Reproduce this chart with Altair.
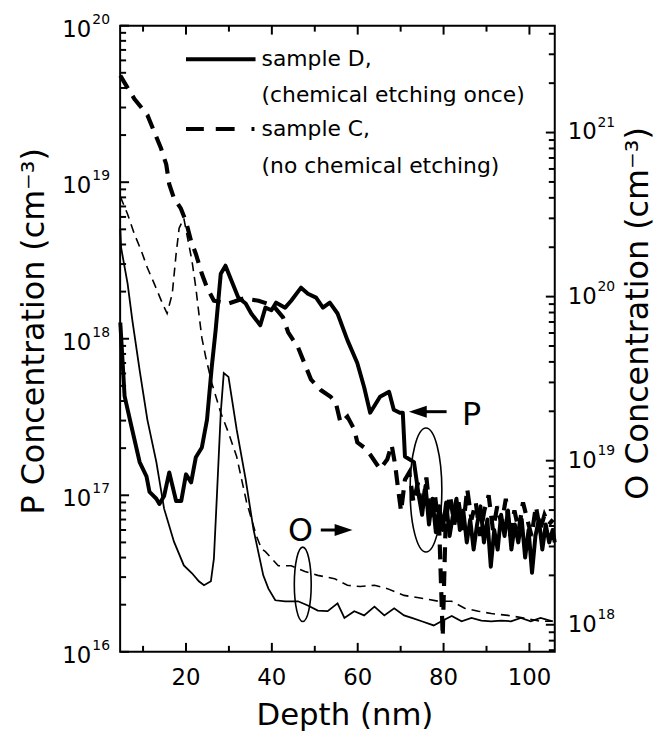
import altair as alt
import pandas as pd

FONT = "DejaVu Sans"
W, H = 438, 631
X0, X1 = 4.66, 105.9
P0, P1 = 16.0, 20.0          # log10 limits of the left (P) axis
O0, O1 = 17.835, 21.6515     # log10 limits of the right (O) axis

# ---------------- data ----------------
# P concentration, sample D (thick solid)
pD_depth = [4.7, 5.7, 7.3, 9.2, 10.8, 11.5, 13.1, 13.8, 14.9, 16.1, 17.7, 18.9, 20.0, 21.2, 22.3,
            23.7, 24.9, 26.0, 26.9, 28.1, 29.2, 30.6, 32.2, 33.9, 35.2, 37.3, 38.5, 39.9, 41.0,
            43.1, 44.5, 46.8, 48.4, 50.3, 51.9, 53.5, 55.3, 57.6, 59.9, 61.5, 62.9, 65.2, 67.3,
            68.4, 69.8, 70.5, 71.0, 73.1, 74.2, 75.0, 75.8, 76.6, 77.4, 78.2, 79.0, 79.8, 80.6,
            81.4, 82.2, 83.0, 83.8, 84.6, 85.4, 86.2, 87.0, 87.8, 88.6, 89.4, 90.2, 91.0, 91.8,
            92.6, 93.4, 94.2, 95.0, 95.8, 96.6, 97.4, 98.2, 99.0, 99.8, 100.6, 101.4, 102.2,
            103.0, 103.8, 104.6, 105.4, 105.9]
pD_conc = [1.27e18, 4.3e17, 2.75e17, 1.63e17, 1.32e17, 1.05e17, 9.5e16, 8.8e16, 9.9e16, 1.4e17,
           9.2e16, 9.2e16, 1.36e17, 1.21e17, 1.75e17, 2.02e17, 3.04e17, 6.6e17, 1.13e18, 2.6e18,
           2.93e18, 2.35e18, 1.83e18, 1.68e18, 1.45e18, 1.22e18, 1.58e18, 1.52e18, 1.7e18,
           1.58e18, 1.75e18, 2.12e18, 1.94e18, 1.83e18, 1.58e18, 1.7e18, 1.45e18, 9.8e17,
           7.0e17, 4.9e17, 3.37e17, 4.26e17, 4.58e17, 3.52e17, 3.37e17, 3.37e17, 1.77e17,
           1.63e17, 1.0e17, 7.5e16, 1.15e17, 6.5e16, 9.5e16, 5.8e16, 8.5e16, 6.0e16, 9.0e16,
           5.5e16, 7.5e16, 9.5e16, 6.0e16, 8.0e16, 5.0e16, 7.0e16, 4.5e16, 6.5e16, 8.5e16,
           5.0e16, 7.0e16, 3.5e16, 6.0e16, 4.5e16, 7.5e16, 5.5e16, 8.0e16, 4.5e16, 6.5e16,
           5.0e16, 7.0e16, 4.0e16, 6.0e16, 3.2e16, 5.5e16, 7.0e16, 4.5e16, 6.5e16, 5.0e16,
           6.0e16, 5.0e16]

# P concentration, sample C (thick dashed)
pC_depth = [4.7, 6.3, 8.0, 11.0, 12.6, 14.2, 15.4, 16.1, 17.2, 18.8, 20.0, 21.2, 22.3, 23.7,
            24.9, 26.5, 29.9, 33.4, 36.9, 40.3, 42.6, 43.8, 46.1, 47.3, 49.1, 51.4, 53.7, 54.9,
            56.0, 57.6, 59.2, 59.9, 61.5, 62.9, 65.2, 66.9, 67.9, 68.7, 69.4, 70.1, 71.0, 72.0,
            73.0, 74.0, 75.0, 76.0, 77.0, 78.0, 79.0, 79.8, 80.5, 81.5, 82.5, 83.5, 84.5, 85.5,
            86.5, 87.5, 88.5, 89.5, 90.5, 91.5, 92.5, 93.5, 94.5, 95.5, 96.5, 97.5, 98.5, 99.5,
            100.5, 101.5, 102.5, 103.5, 104.5, 105.5]
pC_conc = [4.8e19, 4.05e19, 3.4e19, 2.69e19, 2.1e19, 1.64e19, 1.3e19, 9.7e18, 7.9e18, 6.8e18,
           5.6e18, 4.2e18, 3.48e18, 2.6e18, 2.12e18, 1.75e18, 1.68e18, 1.81e18, 1.75e18,
           1.63e18, 1.37e18, 1.1e18, 8.8e17, 7.3e17, 5.5e17, 4.7e17, 4.26e17, 3.9e17, 2.91e17,
           3.18e17, 2.63e17, 2.18e17, 2.02e17, 1.82e17, 1.47e17, 1.7e17, 2.1e17, 1.58e17,
           1.1e17, 7.9e16, 1.26e17, 1.4e17, 9.0e16, 1.2e17, 8.0e16, 1.3e17, 7.0e16, 1.0e17,
           6.0e16, 1.25e16, 7.0e16, 1.0e17, 6.5e16, 9.0e16, 6.0e16, 1.1e17, 7.0e16, 9.0e16,
           5.5e16, 8.0e16, 1.0e17, 6.0e16, 8.5e16, 6.5e16, 9.5e16, 5.5e16, 8.0e16, 6.0e16,
           9.0e16, 7.0e16, 5.5e16, 8.5e16, 6.0e16, 7.5e16, 6.5e16, 7.0e16]

# O concentration, sample D (thin solid)
oD_depth = [4.7, 4.9, 6.4, 7.5, 9.2, 11.0, 13.1, 14.9, 17.2, 19.5, 21.4, 23.0, 24.2, 25.8,
            26.5, 27.2, 28.1, 28.8, 29.9, 31.8, 33.9, 35.7, 38.0, 39.2, 40.8, 43.1, 46.1, 48.4,
            50.7, 53.0, 55.3, 56.9, 59.2, 61.5, 63.9, 66.2, 68.5, 70.8, 72.6, 74.9, 77.7, 79.5,
            81.9, 84.2, 86.5, 88.8, 91.1, 93.4, 95.7, 98.0, 100.3, 102.6, 105.4]
oD_conc = [2.58e20, 1.98e20, 1.2e20, 7.2e19, 3.57e19, 1.78e19, 9.8e18, 5.1e18, 3.21e18, 2.3e18,
           2.06e18, 1.84e18, 1.74e18, 1.84e18, 2.53e18, 6.1e18, 1.96e19, 3.42e19, 3.24e19,
           1.55e19, 7.7e18, 3.84e18, 2.0e18, 1.66e18, 1.41e18, 1.39e18, 1.39e18, 1.31e18,
           1.22e18, 1.21e18, 1.35e18, 1.1e18, 1.21e18, 1.14e18, 1.29e18, 1.14e18, 1.26e18,
           1.14e18, 1.1e18, 1.05e18, 9.9e17, 1.05e18, 1.13e18, 1.05e18, 1.1e18, 1.06e18,
           1.05e18, 1.06e18, 1.05e18, 1.1e18, 1.05e18, 1.1e18, 1.05e18]

# O concentration, sample C (thin dashed)
oC_depth = [4.7, 6.4, 8.0, 9.6, 11.0, 12.6, 14.5, 15.6, 16.8, 17.7, 18.4, 19.5, 20.2, 21.4,
            22.3, 23.0, 23.7, 24.6, 26.0, 28.1, 29.9, 31.8, 34.1, 36.4, 37.6, 38.5, 41.5, 44.5,
            47.7, 50.7, 54.6, 57.6, 60.6, 63.9, 66.9, 70.8, 74.9, 78.9, 81.9, 84.9, 88.1, 91.1,
            95.0, 98.7, 102.6, 105.4]
oC_conc = [4.08e20, 3.18e20, 2.4e20, 1.9e20, 1.5e20, 1.2e20, 9.1e19, 7.9e19, 1.04e20, 1.82e20,
           2.61e20, 3.0e20, 2.4e20, 1.65e20, 1.13e20, 7.9e19, 5.6e19, 4.28e19, 2.98e19,
           1.96e19, 1.48e19, 1.06e19, 5.6e18, 3.48e18, 2.9e18, 2.79e18, 2.29e18, 2.29e18,
           2.11e18, 2.0e18, 1.91e18, 1.74e18, 1.71e18, 1.74e18, 1.66e18, 1.51e18, 1.45e18,
           1.39e18, 1.39e18, 1.26e18, 1.21e18, 1.17e18, 1.14e18, 1.1e18, 1.05e18, 1.05e18]

# ticks / labels
x_major = [20, 40, 60, 80, 100]
x_minor = [10, 30, 50, 70, 90]
x_labels = ["20", "40", "60", "80", "100"]
p_major = [1e16, 1e17, 1e18, 1e19, 1e20]
p_exp = ["16", "17", "18", "19", "20"]
p_minor = [k * 10.0 ** n for n in range(16, 20) for k in range(2, 10)]
o_major = [1e18, 1e19, 1e20, 1e21]
o_exp = ["18", "19", "20", "21"]
o_minor = [7e17, 8e17, 9e17] + [k * 10.0 ** n for n in (18, 19, 20) for k in range(2, 10)] + [2e21, 3e21, 4e21]

legend_labels = ["sample D,", "(chemical etching once)", "sample C,", "(no chemical etching)"]
legend_P = [6.1e19, 3.6e19, 2.19e19, 1.26e19]

# ---------------- scales ----------------
xs = alt.Scale(domain=[X0, X1], nice=False, zero=False)
ps = alt.Scale(type="log", domain=[10 ** P0, 10 ** P1], nice=False)
X = alt.X("depth:Q", scale=xs, axis=None)
YP = alt.Y("P:Q", scale=ps, axis=None)
# right-hand (O) axis: log range [O0, O1] laid over the same plot height
O_TO_P = f"pow(10, {P0} + (log(datum.O)/LN10 - {O0}) * {(P1 - P0) / (O1 - O0)})"
YO = alt.Y("OP:Q", scale=ps, axis=None)

px_per_nm = W / (X1 - X0)
px_per_dec = H / (P1 - P0)
MAJ, MIN = 9.0, 6.0


def ytick(vals, field, length, right=False):
    n = len(vals)
    dx = length / px_per_nm
    d = pd.DataFrame({"depth": [X1 - dx if right else X0] * n,
                      "d2": [X1 if right else X0 + dx] * n,
                      field: list(vals)})
    ch = alt.Chart(d)
    if field == "O":
        ch = ch.transform_calculate(OP=O_TO_P)
    return ch.mark_rule(color="black", strokeWidth=2).encode(
        x=X, x2="d2:Q", y=(YO if field == "O" else YP))


def xtick(vals, length, top=False):
    n = len(vals)
    dy = length / px_per_dec
    d = pd.DataFrame({"depth": list(vals),
                      "P": [10 ** P1 if top else 10 ** P0] * n,
                      "P2": [10 ** (P1 - dy) if top else 10 ** (P0 + dy)] * n})
    return alt.Chart(d).mark_rule(color="black", strokeWidth=2).encode(x=X, y=YP, y2="P2:Q")


# ---------------- curves ----------------
lineD = alt.Chart(pd.DataFrame({"depth": pD_depth, "P": pD_conc})).mark_line(
    color="black", strokeWidth=4, strokeJoin="round").encode(x=X, y=YP)
lineC = alt.Chart(pd.DataFrame({"depth": pC_depth, "P": pC_conc})).mark_line(
    color="black", strokeWidth=4.2, strokeDash=[15, 9]).encode(x=X, y=YP)
lineOD = alt.Chart(pd.DataFrame({"depth": oD_depth, "O": oD_conc})).transform_calculate(
    OP=O_TO_P).mark_line(color="black", strokeWidth=1.8).encode(x=X, y=YO)
lineOC = alt.Chart(pd.DataFrame({"depth": oC_depth, "O": oC_conc})).transform_calculate(
    OP=O_TO_P).mark_line(color="black", strokeWidth=1.6, strokeDash=[9, 6]).encode(x=X, y=YO)

# ---------------- tick labels ----------------
pmaj = alt.Chart(pd.DataFrame({"P": p_major, "e": p_exp}))
p_lab10 = pmaj.mark_text(align="right", baseline="middle", dy=4, fontSize=23, font=FONT,
                         color="black").encode(x=alt.value(-29), y=YP, text=alt.value("10"))
p_labexp = pmaj.mark_text(align="left", baseline="middle", dy=-6, fontSize=14, font=FONT,
                          color="black").encode(x=alt.value(-28), y=YP, text="e:N")
omaj = alt.Chart(pd.DataFrame({"O": o_major, "e": o_exp})).transform_calculate(OP=O_TO_P)
o_lab10 = omaj.mark_text(align="left", baseline="middle", dy=0, fontSize=23, font=FONT,
                         color="black").encode(x=alt.value(451), y=YO, text=alt.value("10"))
o_labexp = omaj.mark_text(align="left", baseline="middle", dy=-10, fontSize=14, font=FONT,
                          color="black").encode(x=alt.value(481), y=YO, text="e:N")
x_lab = alt.Chart(pd.DataFrame({"depth": x_major, "lab": x_labels})).mark_text(
    baseline="alphabetic", fontSize=23, font=FONT, color="black").encode(
    x=X, y=alt.value(664), text="lab:N")

# ---------------- legend ----------------
leg_solid = alt.Chart(pd.DataFrame({"depth": [20.0], "d2": [36.2], "P": [6.1e19]})).mark_rule(
    color="black", strokeWidth=4).encode(x=X, x2="d2:Q", y=YP)
leg_dash = alt.Chart(pd.DataFrame({"depth": [20.0], "d2": [36.2], "P": [2.19e19]})).mark_rule(
    color="black", strokeWidth=4, strokeDash=[18, 12, 19, 17, 3, 30]).encode(x=X, x2="d2:Q", y=YP)
leg_text = alt.Chart(pd.DataFrame({"depth": [37.6] * 4, "P": legend_P, "t": legend_labels})).mark_text(
    align="left", baseline="middle", fontSize=22, font=FONT, color="black").encode(x=X, y=YP, text="t:N")

# ---------------- annotations ----------------
K = 0.5523


def ellipse_path(a):
    ka = K * a
    return (f"M0,-1C{ka:.4f},-1 {a:.4f},-{K} {a:.4f},0C{a:.4f},{K} {ka:.4f},1 0,1"
            f"C-{ka:.4f},1 -{a:.4f},{K} -{a:.4f},0C-{a:.4f},-{K} -{ka:.4f},-1 0,-1Z")


ell_O = alt.Chart(pd.DataFrame({"depth": [47.2], "P": [2.7e16]})).mark_point(
    shape=ellipse_path(0.227), size=5625, filled=False, stroke="black", strokeWidth=1.6,
    opacity=1).encode(x=X, y=YP)
ell_P = alt.Chart(pd.DataFrame({"depth": [75.9], "P": [1.08e17]})).mark_point(
    shape=ellipse_path(0.256), size=15625, filled=False, stroke="black", strokeWidth=1.6,
    opacity=1).encode(x=X, y=YP)
arrP_line = alt.Chart(pd.DataFrame({"depth": [74.0], "d2": [80.7], "P": [3.42e17]})).mark_rule(
    color="black", strokeWidth=3).encode(x=X, x2="d2:Q", y=YP)
arrP_head = alt.Chart(pd.DataFrame({"depth": [74.0], "P": [3.42e17]})).mark_point(
    shape="M-1,0L1,-0.67L1,0.67Z", size=324, filled=True, color="black", opacity=1).encode(x=X, y=YP)
arrO_line = alt.Chart(pd.DataFrame({"depth": [51.4], "d2": [56.7], "P": [6.0e16]})).mark_rule(
    color="black", strokeWidth=3).encode(x=X, x2="d2:Q", y=YP)
arrO_head = alt.Chart(pd.DataFrame({"depth": [56.7], "P": [6.0e16]})).mark_point(
    shape="M1,0L-1,-0.67L-1,0.67Z", size=324, filled=True, color="black", opacity=1).encode(x=X, y=YP)
ann_text = alt.Chart(pd.DataFrame({"depth": [86.5, 46.7], "P": [3.27e17, 5.93e16], "t": ["P", "O"]})).mark_text(
    align="center", baseline="middle", fontSize=32, font=FONT, color="black").encode(x=X, y=YP, text="t:N")

# ---------------- titles ----------------
one = pd.DataFrame({"t": ["x"]})
t_x = alt.Chart(one).mark_text(align="center", baseline="alphabetic", fontSize=31, font=FONT,
                               color="black", text="Depth (nm)").encode(x=alt.value(226.5), y=alt.value(705))
t_p = alt.Chart(one).mark_text(align="center", baseline="middle", fontSize=32, font=FONT, angle=270,
                               color="black", text="P Concentration (cm\u207b\u00b3)").encode(
    x=alt.value(-86.5), y=alt.value(308))
t_o = alt.Chart(one).mark_text(align="center", baseline="middle", fontSize=32, font=FONT, angle=270,
                               color="black", text="O Concentration (cm\u207b\u00b3)").encode(
    x=alt.value(522), y=alt.value(290))

chart = alt.layer(
    lineD, lineC, lineOD, lineOC,
    ytick(p_major, "P", MAJ), ytick(p_minor, "P", MIN),
    ytick(o_major, "O", MAJ, right=True), ytick(o_minor, "O", MIN, right=True),
    xtick(x_major, MAJ), xtick(x_minor, MIN), xtick(x_major, MAJ, top=True), xtick(x_minor, MIN, top=True),
    p_lab10, p_labexp, o_lab10, o_labexp, x_lab,
    leg_solid, leg_dash, leg_text, ell_O, ell_P, arrP_line, arrP_head, arrO_line, arrO_head,
    ann_text, t_x, t_p, t_o,
).properties(
    width=W, height=H,
    autosize=alt.AutoSizeParams(type="none"),
    padding={"left": 113, "top": 15, "right": 100, "bottom": 78},
).configure_view(stroke="black", strokeWidth=2)

chart.save("out.html", embed_options={"renderer": "svg", "actions": False})
